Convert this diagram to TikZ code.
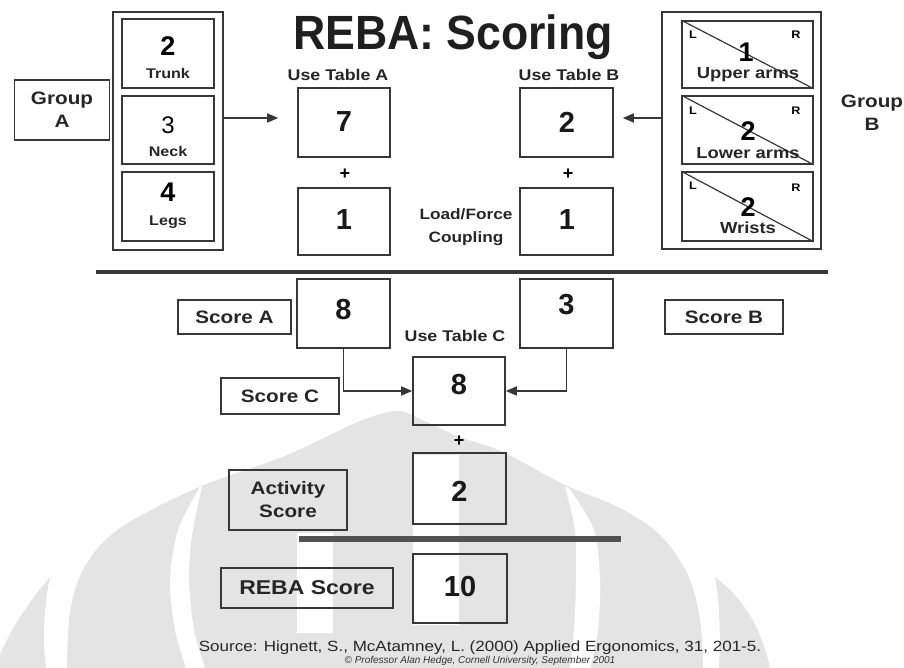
\documentclass[tikz,border=0pt]{standalone}
\usepackage{fontspec}
\setmainfont{Liberation Sans}
\newfontfamily\lab[FakeStretch=1.15]{Liberation Sans}
\newfontfamily\ttl[FakeStretch=0.93]{Liberation Sans}
\usetikzlibrary{arrows.meta}
\definecolor{wm}{RGB}{228,228,228}
\definecolor{ln}{RGB}{55,55,55}
\begin{document}
\begin{tikzpicture}[x=1pt,y=-1pt,
  bx/.style={draw=ln, line width=1.6pt, inner sep=0pt},
  frame/.style={draw=ln, line width=2.6pt, inner sep=0pt},
  sm/.style={font=\lab\bfseries\fontsize{14}{16}\selectfont, inner sep=0pt, text=black!85},
  tb/.style={font=\lab\bfseries\fontsize{15.5}{17}\selectfont, inner sep=0pt, text=black!85},
  md/.style={font=\lab\bfseries\fontsize{18}{23}\selectfont, inner sep=0pt, align=center, text=black!85},
  gb/.style={font=\lab\bfseries\fontsize{16}{18}\selectfont, inner sep=0pt, text=black!85},
  num/.style={font=\bfseries\fontsize{29}{32}\selectfont, inner sep=0pt, text=black!90},
  bnum/.style={font=\bfseries\fontsize{27}{30}\selectfont, inner sep=0pt},
  lr/.style={font=\lab\bfseries\fontsize{11}{12}\selectfont, inner sep=0pt},
  arr/.style={-{Triangle[length=11pt,width=9pt]}, line width=1.6pt, draw=ln}
]
\useasboundingbox (0,0) rectangle (904,668);
% ---------- watermark ----------
\fill[wm] (0,655) .. controls (15,620) and (35,595) .. (50,577) .. controls (44,605) and (42,640) .. (46,668) -- (0,668) -- cycle;
\fill[wm] plot[smooth, tension=0.55] coordinates {(67,668) (70,612) (85,566) (120,528) (197,488) (287,455) (360,421) (398,411) (422,420) (460,437) (503,452) (565,485) (620,508) (660,535) (688,575) (700,620) (703,668)} -- cycle;
\fill[white] plot[smooth] coordinates {(200,487) (178,530) (170,580) (175,630) (186,668)} -- plot[smooth] coordinates {(205,668) (194,630) (189,580) (192,535) (202,487)} -- cycle;
\fill[white] plot[smooth] coordinates {(565,487) (575,530) (576,580) (574,630) (570,668)} -- plot[smooth] coordinates {(590,668) (598,630) (600,580) (594,530) (569,488)} -- cycle;
\fill[wm] (715,577) .. controls (745,600) and (762,630) .. (770,668) -- (719,668) .. controls (721,630) and (719,600) .. (715,577) -- cycle;
\fill[white] (297,533) rectangle (333,633);
\fill[white] (413,455) rectangle (459,625);
% ---------- title ----------
\node[font=\ttl\bfseries\fontsize{48}{50}\selectfont, inner sep=0pt, anchor=base, text=black!88] (title) at (453,50) {REBA: Scoring};
% ---------- group A ----------
\node[bx, minimum width=95pt, minimum height=60pt, md] (ga) at (62,110) {Group\\A};
\node[frame, minimum width=110pt, minimum height=238pt] (fa) at (168,131) {};
\node[bx, minimum width=92pt, minimum height=69pt] (trunk) at (168,53.5) {};
\node[bx, minimum width=92pt, minimum height=68pt] (neck) at (168,130) {};
\node[bx, minimum width=92pt, minimum height=69pt] (legs) at (168,206.5) {};
\node[bnum] (n2t) at (168,46) {2};
\node[sm] (ttr) at (168,73) {Trunk};
\node[font=\fontsize{24}{26}\selectfont, inner sep=0pt] (n3n) at (168,125) {3};
\node[sm] (tnk) at (168,151) {Neck};
\node[bnum] (n4l) at (168,192) {4};
\node[sm] (tlg) at (168,222) {Legs};
% ---------- group B ----------
\node[frame, minimum width=159pt, minimum height=237pt] (fb) at (741.5,130.5) {};
\node[bx, minimum width=131pt, minimum height=67pt] (ua) at (747.5,54.5) {};
\node[bx, minimum width=131pt, minimum height=68pt] (la) at (747.5,130) {};
\node[bx, minimum width=131pt, minimum height=69pt] (wr) at (747.5,206.5) {};
\draw[line width=1.2pt, ln] (ua.north west) -- (ua.south east);
\draw[line width=1.2pt, ln] (la.north west) -- (la.south east);
\draw[line width=1.2pt, ln] (wr.north west) -- (wr.south east);
\node[lr] (ual) at (693,35) {L};
\node[lr] (uar) at (796,35) {R};
\node[bnum] (n1u) at (746,52) {1};
\node[gb] (tua) at (748,75) {Upper arms};
\node[lr] (lal) at (693,111) {L};
\node[lr] (lar) at (796,111) {R};
\node[bnum] (n2l) at (748,131) {2};
\node[gb] (tla) at (748,153) {Lower arms};
\node[lr] (wrl) at (693,186) {L};
\node[lr] (wrr) at (796,188) {R};
\node[bnum] (n2w) at (748,207) {2};
\node[gb] (twr) at (748,228) {Wrists};
\node[md] (gbt) at (872,113) {Group\\B};
% ---------- tables A, B ----------
\node[tb] (uta) at (338,75) {Use Table A};
\node[tb] (utb) at (569,75) {Use Table B};
\node[bx, minimum width=92pt, minimum height=69pt] (t7) at (344,122.5) {};
\node[num] (n7) at (344,122) {7};
\node[bx, minimum width=92pt, minimum height=67pt] (la1) at (344,221.5) {};
\node[num] (n1a) at (344,220) {1};
\node[bx, minimum width=93pt, minimum height=69pt] (t2) at (566.5,122.5) {};
\node[num] (n2b) at (567,122) {2};
\node[bx, minimum width=93pt, minimum height=67pt] (lb1) at (566.5,221.5) {};
\node[num] (n1b) at (567,220) {1};
\node[font=\bfseries\fontsize{18}{18}\selectfont, inner sep=0pt] (pa) at (345,174) {+};
\node[font=\bfseries\fontsize{18}{18}\selectfont, inner sep=0pt] (pb) at (568,174) {+};
\node[sm, font=\lab\bfseries\fontsize{15}{23}\selectfont, align=center] (lfc) at (466,227) {Load/Force\\Coupling};
\draw[arr, shorten >=19pt] ([yshift=4.5pt]fa.east |- t7.west) -- ([yshift=4.5pt]t7.west);
\draw[arr, shorten >=9pt] ([yshift=4.5pt]fb.west |- t2.east) -- ([yshift=4.5pt]t2.east);
% ---------- separator ----------
\draw[line width=3.6pt, ln] (96,272) -- (828,272);
% ---------- scores ----------
\node[bx, minimum width=113pt, minimum height=34pt, md] (sa) at (234.5,317) {Score A};
\node[bx, minimum width=118pt, minimum height=34pt, md] (sb) at (724,317) {Score B};
\node[bx, minimum width=93pt, minimum height=69pt] (s8) at (343.5,313.5) {};
\node[num] (n8a) at (343.5,310) {8};
\node[bx, minimum width=93pt, minimum height=69pt] (s3) at (566.5,313.5) {};
\node[num] (n3b) at (566.5,305) {3};
\node[tb] (utc) at (455,336) {Use Table C};
\node[bx, minimum width=92pt, minimum height=68pt] (c8) at (459,391) {};
\node[num] (n8c) at (459,385) {8};
\node[bx, minimum width=118pt, minimum height=36pt, md] (sc) at (280,396) {Score C};
\draw[arr] (s8.south) |- (c8.west);
\draw[arr] (s3.south) |- (c8.east);
\node[font=\bfseries\fontsize{18}{18}\selectfont, inner sep=0pt] (pc) at (459,441) {+};
\node[bx, minimum width=93pt, minimum height=71pt] (act) at (459.5,488.5) {};
\node[num] (n2c) at (459.5,491) {2};
\node[bx, minimum width=118pt, minimum height=60pt, md] (as) at (288,500) {Activity\\Score};
\draw[line width=6pt, black!68] (299,539) -- (621,539);
\node[bx, line width=2.6pt, minimum width=94pt, minimum height=69pt] (reb) at (460,588.5) {};
\node[num] (n10) at (460,587) {10};
\node[bx, minimum width=172pt, minimum height=40pt, md, font=\lab\bfseries\fontsize{20}{22}\selectfont] (rs) at (307,588) {REBA Score};
% ---------- source ----------
\node[font=\lab\fontsize{14.8}{16}\selectfont, inner sep=0pt, text=black!85] (src) at (480,648) {Source: Hignett, S., McAtamney, L. (2000) Applied Ergonomics, 31, 201-5.};
\node[font=\itshape\fontsize{10}{11}\selectfont, inner sep=0pt, text=black!80] (cpy) at (480,661) {\textcopyright{} Professor Alan Hedge, Cornell University, September 2001};
\end{tikzpicture}
\end{document}
